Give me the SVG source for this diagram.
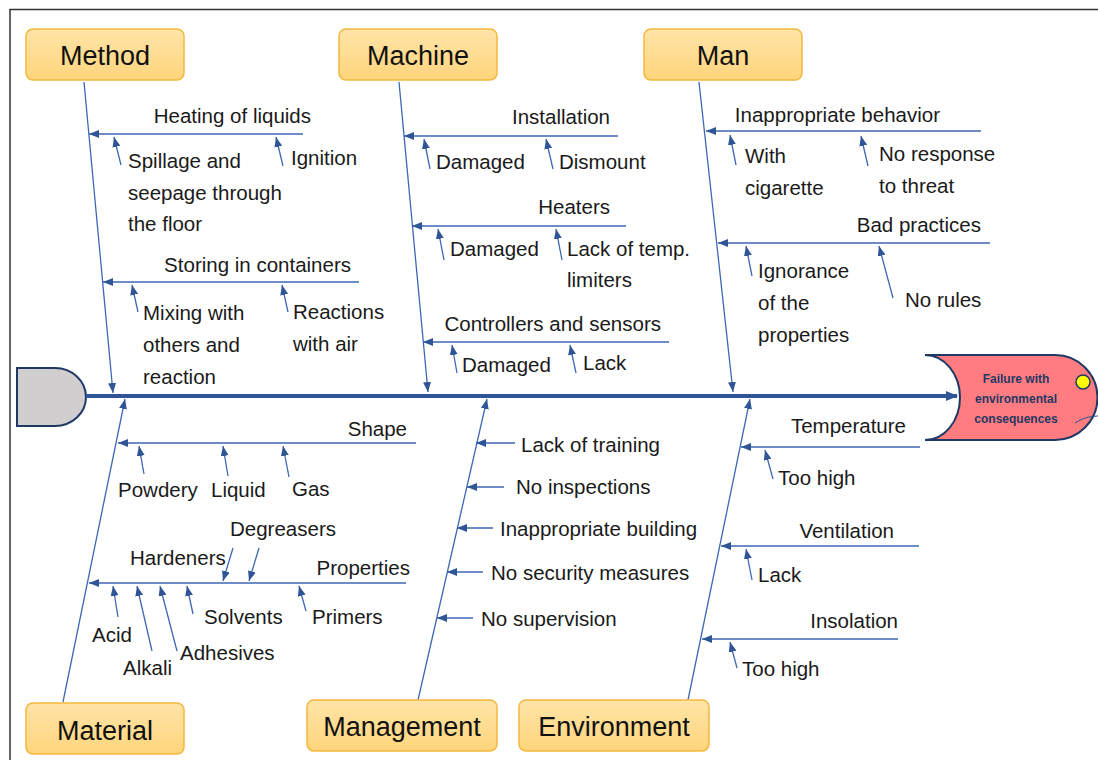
<svg xmlns="http://www.w3.org/2000/svg" width="1098" height="760" viewBox="0 0 1098 760">
<defs>
<linearGradient id="boxg" x1="0" y1="0" x2="0" y2="1">
<stop offset="0" stop-color="#FFE4A8"/>
<stop offset="1" stop-color="#FFD57C"/>
</linearGradient>
<marker id="ah" viewBox="0 0 10 8" refX="10" refY="4" markerWidth="10" markerHeight="8" markerUnits="userSpaceOnUse" orient="auto">
<path d="M0,0 L10,4 L0,8 z" fill="#2F5597"/>
</marker>
<marker id="bigah" viewBox="0 0 12 10" refX="11" refY="5" markerWidth="12" markerHeight="10" markerUnits="userSpaceOnUse" orient="auto">
<path d="M0,0 L12,5 L0,10 z" fill="#2F5597"/>
</marker>
</defs>
<style>
.box{fill:url(#boxg);stroke:#F2B83C;stroke-width:1.5}
.cat{font-family:"Liberation Sans",Arial,sans-serif;font-size:27px;fill:#111;text-anchor:middle}
.t{font-family:"Liberation Sans",Arial,sans-serif;font-size:20.5px;fill:#1a1a1a}
.e{text-anchor:end}
.ln{stroke:#3E67B5;stroke-width:1.3;fill:none;marker-end:url(#ah)}
.hd{font-family:"Liberation Sans",Arial,sans-serif;font-size:12px;font-weight:bold;fill:#1F3864;text-anchor:middle}
</style>
<rect width="1098" height="760" fill="#fff"/>
<path d="M10,760 L10,9.5 L1098,9.5" fill="none" stroke="#333" stroke-width="1.5"/>

<g id="tail">
<path d="M17,368 L55,368 A31,29 0 0 1 55,426 L17,426 Z" fill="#D0CECE" stroke="#1F3864" stroke-width="2"/>
</g>

<g id="head">
<path d="M925,355 L1055,355 A42.5,42.5 0 0 1 1055,440 L925,440 A35,42.5 0 0 0 925,355 Z" fill="#FF7C80" stroke="#1F3864" stroke-width="2"/>
<circle cx="1083" cy="382" r="7" fill="#FFFF00" stroke="#1F3864" stroke-width="1.5"/>
<path d="M1075,423 Q1085,416 1098,416" fill="none" stroke="#2F5597" stroke-width="1"/>
<text class="hd" x="1016" y="383">Failure with</text>
<text class="hd" x="1016" y="403">environmental</text>
<text class="hd" x="1016" y="423">consequences</text>
</g>

<g id="connectors">
<line x1="86" y1="396" x2="957" y2="396" stroke="#2F5597" stroke-width="4" marker-end="url(#bigah)"/>
<path class="ln" d="M84,82 L113,393"/>
<path class="ln" d="M399,82 L428,392"/>
<path class="ln" d="M699,82 L733,392"/>
<path class="ln" d="M63,702 L125,399"/>
<path class="ln" d="M418,700 L487,399"/>
<path class="ln" d="M688,700 L750,399"/>
<!-- Method -->
<path class="ln" d="M303,134 L89,134"/>
<path class="ln" d="M121,165 L114,137"/>
<path class="ln" d="M283,166 L276,137"/>
<path class="ln" d="M359,282 L103,282"/>
<path class="ln" d="M138,312 L132,285"/>
<path class="ln" d="M288,312 L282,285"/>
<!-- Machine -->
<path class="ln" d="M618,136 L404,136"/>
<path class="ln" d="M430,169 L424,139"/>
<path class="ln" d="M553,169 L546,139"/>
<path class="ln" d="M626,226 L412,226"/>
<path class="ln" d="M444,260 L438,229"/>
<path class="ln" d="M562,260 L556,229"/>
<path class="ln" d="M669,342 L423,342"/>
<path class="ln" d="M457,373 L452,345"/>
<path class="ln" d="M576,373 L570,345"/>
<!-- Man -->
<path class="ln" d="M981,131 L706,131"/>
<path class="ln" d="M736,165 L730,135"/>
<path class="ln" d="M868,166 L861,136"/>
<path class="ln" d="M990,243 L718,243"/>
<path class="ln" d="M752,276 L746,246"/>
<path class="ln" d="M893,298 L879,246"/>
<!-- Material -->
<path class="ln" d="M416,443 L118,443"/>
<path class="ln" d="M144,474 L139,446"/>
<path class="ln" d="M228,476 L223,446"/>
<path class="ln" d="M289,477 L283,446"/>
<path class="ln" d="M406,583 L89,583"/>
<path class="ln" d="M233,548 L223,581"/>
<path class="ln" d="M259,548 L249,581"/>
<path class="ln" d="M118,617 L113,586"/>
<path class="ln" d="M152,651 L137,586"/>
<path class="ln" d="M177,651 L160,586"/>
<path class="ln" d="M193,614 L187,586"/>
<path class="ln" d="M306,611 L299,586"/>
<!-- Management -->
<path class="ln" d="M515,443 L476,443"/>
<path class="ln" d="M504,487 L467,487"/>
<path class="ln" d="M493,528 L457,528"/>
<path class="ln" d="M483,572 L447,572"/>
<path class="ln" d="M473,618 L437,618"/>
<!-- Environment -->
<path class="ln" d="M920,447 L741,447"/>
<path class="ln" d="M773,479 L765,450"/>
<path class="ln" d="M919,546 L721,546"/>
<path class="ln" d="M752,580 L746,549"/>
<path class="ln" d="M898,639 L702,639"/>
<path class="ln" d="M737,668 L730,642"/>
</g>

<g id="method">
<rect class="box" x="26" y="29" width="158" height="51" rx="7"/>
<text class="cat" x="105" y="65">Method</text>
</g>
<g id="machine">
<rect class="box" x="339" y="29" width="158" height="51" rx="7"/>
<text class="cat" x="418" y="65">Machine</text>
</g>
<g id="man">
<rect class="box" x="644" y="29" width="158" height="51" rx="7"/>
<text class="cat" x="723" y="65">Man</text>
</g>
<g id="material">
<rect class="box" x="26" y="703" width="158" height="51" rx="7"/>
<text class="cat" x="105" y="740">Material</text>
</g>
<g id="management">
<rect class="box" x="307" y="700" width="190" height="51" rx="7"/>
<text class="cat" x="402" y="736">Management</text>
</g>
<g id="environment">
<rect class="box" x="519" y="700" width="190" height="51" rx="7"/>
<text class="cat" x="614" y="736">Environment</text>
</g>

<g id="method-causes">
<text class="t e" x="311" y="123">Heating of liquids</text>
<text class="t" x="128" y="168">Spillage and</text>
<text class="t" x="128" y="200">seepage through</text>
<text class="t" x="128" y="231">the floor</text>
<text class="t" x="291" y="165">Ignition</text>
<text class="t e" x="351" y="272">Storing in containers</text>
<text class="t" x="143" y="320">Mixing with</text>
<text class="t" x="143" y="352">others and</text>
<text class="t" x="143" y="384">reaction</text>
<text class="t" x="293" y="319">Reactions</text>
<text class="t" x="293" y="351">with air</text>
</g>
<g id="machine-causes">
<text class="t e" x="610" y="124">Installation</text>
<text class="t" x="436" y="169">Damaged</text>
<text class="t" x="559" y="169">Dismount</text>
<text class="t e" x="610" y="214">Heaters</text>
<text class="t" x="450" y="256">Damaged</text>
<text class="t" x="567" y="256">Lack of temp.</text>
<text class="t" x="567" y="287">limiters</text>
<text class="t e" x="661" y="331">Controllers and sensors</text>
<text class="t" x="462" y="372">Damaged</text>
<text class="t" x="583" y="370">Lack</text>
</g>
<g id="man-causes">
<text class="t e" x="940" y="122">Inappropriate behavior</text>
<text class="t" x="745" y="163">With</text>
<text class="t" x="745" y="195">cigarette</text>
<text class="t" x="879" y="161">No response</text>
<text class="t" x="879" y="193">to threat</text>
<text class="t e" x="981" y="232">Bad practices</text>
<text class="t" x="758" y="278">Ignorance</text>
<text class="t" x="758" y="310">of the</text>
<text class="t" x="758" y="342">properties</text>
<text class="t" x="905" y="307">No rules</text>
</g>
<g id="material-causes">
<text class="t e" x="407" y="436">Shape</text>
<text class="t" x="118" y="497">Powdery</text>
<text class="t" x="211" y="497">Liquid</text>
<text class="t" x="292" y="496">Gas</text>
<text class="t e" x="410" y="575">Properties</text>
<text class="t" x="130" y="565">Hardeners</text>
<text class="t" x="230" y="536">Degreasers</text>
<text class="t" x="92" y="642">Acid</text>
<text class="t" x="123" y="675">Alkali</text>
<text class="t" x="180" y="660">Adhesives</text>
<text class="t" x="204" y="624">Solvents</text>
<text class="t" x="312" y="624">Primers</text>
</g>
<g id="management-causes">
<text class="t" x="521" y="452">Lack of training</text>
<text class="t" x="516" y="494">No inspections</text>
<text class="t" x="500" y="536">Inappropriate building</text>
<text class="t" x="491" y="580">No security measures</text>
<text class="t" x="481" y="626">No supervision</text>
</g>
<g id="environment-causes">
<text class="t e" x="906" y="433">Temperature</text>
<text class="t" x="778" y="485">Too high</text>
<text class="t e" x="894" y="538">Ventilation</text>
<text class="t" x="758" y="582">Lack</text>
<text class="t e" x="898" y="628">Insolation</text>
<text class="t" x="742" y="676">Too high</text>
</g>
</svg>
